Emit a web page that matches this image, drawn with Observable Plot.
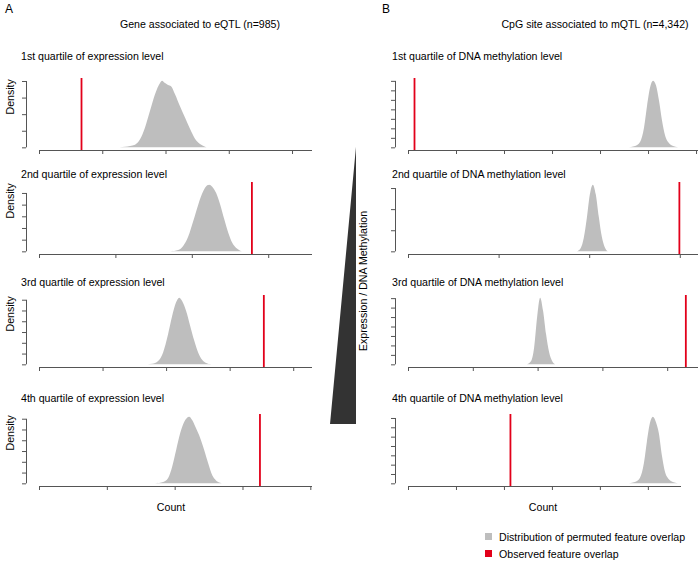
<!DOCTYPE html>
<html>
<head>
<meta charset="utf-8">
<script src="https://cdn.jsdelivr.net/npm/d3@7"></script>
<script src="https://cdn.jsdelivr.net/npm/@observablehq/plot@0.6"></script>
<style>
  body { margin: 0; background: #fff; font-family: "Liberation Sans", Arial, sans-serif; }
  #chart { position: relative; width: 700px; height: 562px; overflow: hidden; background: #fff; }
  .t { position: absolute; white-space: nowrap; line-height: 1; color: #000; font-family: "Liberation Sans", Arial, sans-serif; }
  .sw { position: absolute; width: 7px; height: 7px; }
</style>
</head>
<body>
<div id="chart"></div>
<script>
// ---------------- DATA ----------------
const panelLetters = ["A", "B"];
const columnTitles = ["Gene associated to eQTL (n=985)", "CpG site associated to mQTL (n=4,342)"];
const panelTitles = [
  "1st quartile of expression level",
  "2nd quartile of expression level",
  "3rd quartile of expression level",
  "4th quartile of expression level",
  "1st quartile of DNA methylation level",
  "2nd quartile of DNA methylation level",
  "3rd quartile of DNA methylation level",
  "4th quartile of DNA methylation level"
];
const yLabel = "Density";
const xLabel = "Count";
const gradientLabel = "Expression / DNA Methylation";
const legendLabels = ["Distribution of permuted feature overlap", "Observed feature overlap"];

// x (count) tick values and axis extent per panel (tick labels are blank in the source)
const countTicks = [
  [0, 10, 20, 30, 40],
  [0, 10, 20, 30],
  [0, 10, 20, 30, 40],
  [0, 10, 20, 30, 40],
  [0, 10, 20, 30, 40, 50, 60],
  [0, 10, 20, 30],
  [0, 10, 20, 30, 40],
  [0, 10, 20, 30, 40, 50]
];
const countMax = [43.0, 35.6, 42.8, 40.1, 60.2, 31.9, 44.6, 56.7];
const densityTicks = [
  [0, 1, 2, 3, 4],
  [0, 1, 2, 3, 4, 5],
  [0, 1, 2, 3, 4, 5, 6],
  [0, 1, 2, 3, 4, 5, 6],
  [0, 1, 2, 3, 4, 5, 6, 7],
  [0, 1, 2, 3],
  [0, 1, 2, 3, 4, 5, 6, 7],
  [0, 1, 2, 3, 4, 5, 6, 7]
];

// observed feature overlap (red line) per panel
const observedCount = [6.64, 27.8, 35.3, 32.5, 1.25, 29.9, 42.8, 21.25];

// permuted overlap distributions (density curves) per panel
const permutedCount = [
  [11.86, 13.60, 15.18, 15.97, 16.76, 17.55, 18.34, 19.13, 19.45, 19.92, 20.40, 20.87, 21.50, 22.29, 23.08, 23.87, 24.66, 25.45, 26.25, 26.72],
  [17.17, 18.22, 18.87, 19.53, 20.18, 20.84, 21.49, 22.02, 22.28, 22.67, 23.20, 23.72, 24.25, 24.77, 25.29, 25.82, 26.34, 26.74],
  [16.38, 17.80, 18.74, 19.53, 20.31, 20.94, 21.57, 22.05, 22.52, 23.15, 23.78, 24.41, 25.04, 25.67, 26.30, 27.09],
  [17.12, 18.30, 19.04, 19.63, 20.22, 20.81, 21.40, 22.14, 22.58, 23.17, 23.76, 24.35, 24.94, 25.54, 26.13, 26.72, 27.16],
  [45.63, 47.29, 48.33, 49.17, 49.79, 50.42, 51.04, 51.67, 52.29, 52.92, 53.54, 54.38, 55.21, 56.25],
  [18.63, 19.07, 19.40, 19.74, 20.07, 20.40, 20.73, 21.06, 21.39, 21.72, 22.05],
  [18.38, 19.00, 19.46, 19.92, 20.39, 20.85, 21.31, 21.78, 22.24, 22.70],
  [45.63, 47.29, 48.33, 49.17, 49.79, 50.42, 51.04, 51.67, 52.29, 52.92, 53.54, 54.38, 55.21, 56.25]
];
const permutedDensity = [
  [0, 0.04, 0.16, 0.48, 1.2, 2.2, 3.2, 3.88, 4.02, 3.88, 3.76, 3.68, 3.2, 2.48, 1.8, 1.12, 0.52, 0.2, 0.04, 0],
  [0, 0.11, 0.46, 1.26, 2.57, 4.0, 5.14, 5.65, 5.71, 5.54, 4.97, 4.0, 2.74, 1.6, 0.74, 0.29, 0.06, 0],
  [0, 0.06, 0.31, 1.11, 2.79, 4.46, 5.76, 6.19, 5.88, 4.95, 3.59, 2.23, 1.11, 0.43, 0.12, 0],
  [0, 0.12, 0.5, 1.55, 3.1, 4.64, 5.69, 6.19, 5.88, 5.08, 4.21, 3.1, 1.86, 0.74, 0.25, 0.06, 0],
  [0, 0.14, 0.56, 2.1, 4.34, 6.3, 7.02, 6.51, 4.9, 2.8, 1.26, 0.42, 0.14, 0],
  [0, 0.16, 0.63, 1.58, 2.69, 3.16, 2.69, 1.64, 0.7, 0.19, 0],
  [0, 0.35, 1.76, 4.94, 7.05, 5.64, 3.17, 1.27, 0.35, 0],
  [0, 0.14, 0.57, 2.14, 4.43, 6.43, 7.14, 6.57, 5.36, 3.0, 1.29, 0.43, 0.14, 0]
];

// expression / methylation gradient wedge (relative width from top to bottom)
const wedgeLevel = [0, 1];
const wedgeWidth = [0, 1];

// ---------------- LAYOUT & STYLE ----------------
const FONT = "Liberation Sans, Arial, sans-serif";
const FS = 10.6;
const GREY = "#bebebe";
const RED = "#e2001a";
const AXIS = "#555";
const rowFrameTop = [78, 182, 295, 414];
const frameH = 72;
const colLeft = [0, 350];
const regionLeft = [39, 408];
const regionRight = [311, 311, 311, 311, 697, 697, 697, 680];
const titleCenterY = [55.5, 173.5, 281.5, 397.5];
const titleLeft = [21, 392];

const chart = document.getElementById("chart");

function addText(txt, x, y, opts = {}) {
  const d = document.createElement("div");
  d.className = "t";
  d.textContent = txt;
  d.style.left = x + "px";
  d.style.top = y + "px";
  d.style.fontSize = (opts.size || FS) + "px";
  const tx = opts.anchor === "middle" ? "-50%" : "0";
  d.style.transform = `translate(${tx},-50%)` + (opts.rotate ? ` rotate(${opts.rotate}deg)` : "");
  if (opts.rotate) d.style.transform = `translate(-50%,-50%) rotate(${opts.rotate}deg)`;
  chart.appendChild(d);
  return d;
}

// panel letters and column titles
addText(panelLetters[0], 5, 8.5, {size: 12});
addText(panelLetters[1], 382, 8.5, {size: 12});
addText(columnTitles[0], 200, 23.5, {anchor: "middle"});
addText(columnTitles[1], 595, 23.5, {anchor: "middle"});

// panels
for (let i = 0; i < 8; i++) {
  const col = i < 4 ? 0 : 1;
  const row = i % 4;
  const mt = 4, mb = 10;
  const data = permutedCount[i].map((c, j) => ({count: c, density: permutedDensity[i][j]}));
  const peak = d3.max(permutedDensity[i]);
  const topTick = d3.max(densityTicks[i]);
  const marks = [
    Plot.areaY(data, {x: "count", y: "density", fill: GREY, curve: "monotone-x"}),
    Plot.ruleX([observedCount[i]], {stroke: RED, strokeWidth: 1.8}),
    Plot.frame({anchor: "bottom", stroke: AXIS}),
    Plot.axisX(countTicks[i], {tickSize: 4, stroke: AXIS, fill: "none"}),
    Plot.axisY(densityTicks[i], {tickSize: 4, stroke: AXIS, fill: "none", dx: -13}),
    Plot.ruleX([0], {y1: 0, y2: topTick, dx: -13, stroke: AXIS})
  ];
  if (col === 0) {
    marks.push(Plot.text([yLabel], {frameAnchor: "left", rotate: -90, dx: -29, fontSize: FS, fill: "#000"}));
  }
  const svg = Plot.plot({
    width: 350,
    height: frameH + mt + mb,
    marginLeft: regionLeft[col] - colLeft[col],
    marginRight: colLeft[col] + 350 - regionRight[i],
    marginTop: mt,
    marginBottom: mb,
    x: {domain: [0, countMax[i]], axis: null},
    y: {domain: [-0.04 * peak, 1.04 * peak], axis: null},
    style: {fontFamily: FONT, fontSize: FS + "px", background: "transparent", overflow: "visible"},
    marks
  });
  svg.style.position = "absolute";
  svg.style.left = colLeft[col] + "px";
  svg.style.top = (rowFrameTop[row] - mt) + "px";
  chart.appendChild(svg);

  addText(panelTitles[i], titleLeft[col], titleCenterY[row]);
}

// x labels
addText(xLabel, 171, 507, {anchor: "middle"});
addText(xLabel, 543, 507, {anchor: "middle"});

// gradient wedge
{
  const wedge = wedgeLevel.map((l, j) => ({level: l, width: wedgeWidth[j]}));
  const svg = Plot.plot({
    width: 40, height: 290,
    marginLeft: 5, marginRight: 9, marginTop: 5, marginBottom: 8,
    x: {domain: [-1, 0], axis: null},
    y: {domain: [0, 1], axis: null, reverse: true},
    style: {background: "transparent", overflow: "visible"},
    marks: [
      Plot.areaX(wedge, {y: "level", x1: d => -d.width, x2: 0, fill: "#333"})
    ]
  });
  svg.style.position = "absolute";
  svg.style.left = "325px";
  svg.style.top = "142px";
  chart.appendChild(svg);
  addText(gradientLabel, 363, 281, {rotate: -90});
}

// legend
{
  const s1 = document.createElement("div");
  s1.className = "sw"; s1.style.left = "485px"; s1.style.top = "533px"; s1.style.background = GREY;
  chart.appendChild(s1);
  const s2 = document.createElement("div");
  s2.className = "sw"; s2.style.left = "485px"; s2.style.top = "550px"; s2.style.background = RED;
  chart.appendChild(s2);
  addText(legendLabels[0], 499, 536.5);
  addText(legendLabels[1], 499, 553.5);
}
</script>
</body>
</html>
